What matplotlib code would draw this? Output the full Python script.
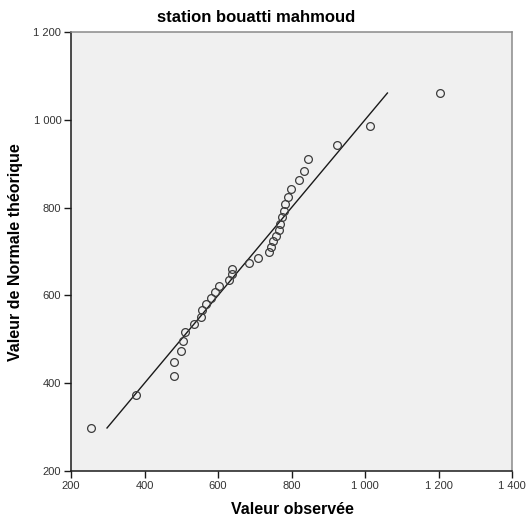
import matplotlib
matplotlib.use("Agg")
import matplotlib.pyplot as plt
from matplotlib.ticker import FuncFormatter

plt.rcParams["font.family"] = ["Liberation Sans", "DejaVu Sans"]

# observed values and matching expected normal values (Q-Q plot)
observed = [254, 377, 480, 481, 498, 504, 510, 536, 553, 557, 567, 580,
            592, 603, 629, 638, 639, 683, 710, 738, 743, 750, 758, 765,
            770, 773, 780, 783, 790, 799, 820, 833, 844, 924, 1013, 1204]
expected = [298, 373, 416, 448, 474, 497, 517, 534, 550, 566, 581, 594,
            608, 622, 635, 648, 661, 673, 686, 698, 710, 724, 736, 749,
            763, 778, 793, 808, 825, 842, 862, 884, 911, 943, 986, 1061]
ticks = [200, 400, 600, 800, 1000, 1200, 1400]

fig = plt.figure(figsize=(5.28, 5.19), dpi=100)
ax = fig.add_axes([71 / 528, 1 - 471 / 519, 441 / 528, 439 / 519])
ax.set_facecolor("#F0F0F0")

lo, hi = min(expected), max(expected)
ax.plot([lo, hi], [lo, hi], color="#1A1A1A", lw=1.0)
ax.plot(observed, expected, "o", ms=5.6, mfc="none", mec="#3C3C3C", mew=0.9)

ax.set_xlim(200, 1400)
ax.set_ylim(200, 1200)
ax.set_xticks(ticks)
ax.set_yticks(ticks[:-1])
fmt = FuncFormatter(lambda v, p: f"{int(v):,}".replace(",", " "))
ax.xaxis.set_major_formatter(fmt)
ax.yaxis.set_major_formatter(fmt)
ax.tick_params(labelsize=8, colors="#1A1A1A", length=5, width=1, pad=2)
ax.tick_params(axis="both", labelcolor="#333333")

for s in ("left", "bottom"):
    ax.spines[s].set_color("#1A1A1A")
    ax.spines[s].set_linewidth(1.1)
for s in ("top", "right"):
    ax.spines[s].set_color("#8A8A8A")
    ax.spines[s].set_linewidth(1.1)

fig.text(292 / 528, 1 - 510 / 519, "Valeur observée", fontsize=11.5,
         fontweight="bold", ha="center", va="center")
fig.text(16 / 528, 1 - 252 / 519, "Valeur de Normale théorique", fontsize=11.5,
         fontweight="bold", ha="center", va="center", rotation=90)
fig.text(256 / 528, 1 - 18 / 519, "station bouatti mahmoud", fontsize=12,
         fontweight="bold", ha="center", va="center")

fig.savefig("out.png", dpi=100, facecolor="white")
